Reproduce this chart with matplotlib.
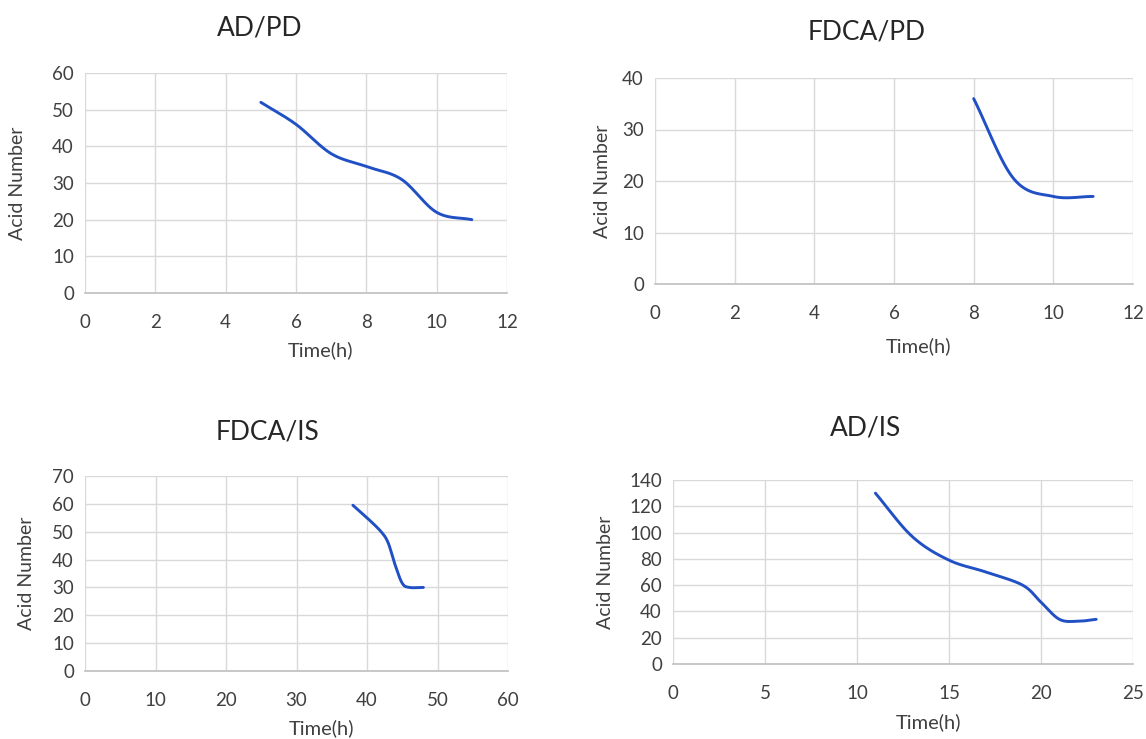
import numpy as np
import matplotlib
matplotlib.use("Agg")
import matplotlib.pyplot as plt

plt.rcParams['font.family'] = ['Lato', 'DejaVu Sans']

# values (Excel smoothed lines)
ad_pd_t = [5, 6, 7, 8, 9, 10, 11]
ad_pd_an = [52, 46, 38, 34.5, 31, 22, 20]

fdca_pd_t = [8, 9, 10, 11]
fdca_pd_an = [36, 20.5, 17, 17]

fdca_is_t = [38, 40, 42, 43, 44, 45, 46, 48]
fdca_is_an = [59.5, 55, 50, 46, 38, 31.5, 30, 30]

ad_is_t = [11, 13, 15, 17, 19, 20, 21, 22, 23]
ad_is_an = [130, 97, 79, 70, 60, 47, 34, 32.5, 34]

titles = ["AD/PD", "FDCA/PD", "FDCA/IS", "AD/IS"]
xmax = [12, 12, 60, 25]
xstep = [2, 2, 10, 5]
ymax = [60, 40, 70, 140]
ystep = [10, 10, 10, 20]

W, H = 1146, 739
# plot boxes in pixels: left, top, right, bottom
boxes = [(85, 73, 507, 293), (655, 78, 1133, 284),
         (85, 476, 508, 671), (673, 480, 1133, 664)]
title_pos = [(260, 28), (867, 32), (268, 432), (866, 428)]
xlab_y = [350, 346, 728, 722]
ylab_x = [18, 603, 27, 605]

LINE = "#2150c4"
TXT = "#404040"


def smooth(x, y, n=30):
    # catmull-rom, like Excel's "smoothed line"
    x = np.asarray(x, float)
    y = np.asarray(y, float)
    px = np.concatenate([[2 * x[0] - x[1]], x, [2 * x[-1] - x[-2]]])
    py = np.concatenate([[2 * y[0] - y[1]], y, [2 * y[-1] - y[-2]]])
    xs, ys = [], []
    t = np.linspace(0, 1, n)
    for i in range(1, len(px) - 2):
        for p, out in ((px, xs), (py, ys)):
            p0, p1, p2, p3 = p[i - 1], p[i], p[i + 1], p[i + 2]
            out.extend(0.5 * ((2 * p1) + (-p0 + p2) * t
                              + (2 * p0 - 5 * p1 + 4 * p2 - p3) * t ** 2
                              + (-p0 + 3 * p1 - 3 * p2 + p3) * t ** 3))
    return xs, ys


fig = plt.figure(figsize=(W / 100, H / 100), dpi=100)

data = [(ad_pd_t, ad_pd_an), (fdca_pd_t, fdca_pd_an),
        (fdca_is_t, fdca_is_an), (ad_is_t, ad_is_an)]

for i in range(4):
    l, t, r, b = boxes[i]
    ax = fig.add_axes([l / W, 1 - b / H, (r - l) / W, (b - t) / H])
    xs, ys = smooth(*data[i])
    ax.plot(xs, ys, color=LINE, lw=2.1, solid_capstyle='round')

    ax.set_xlim(0, xmax[i])
    ax.set_ylim(0, ymax[i])
    ax.set_xticks(np.arange(0, xmax[i] + 1, xstep[i]))
    ax.set_yticks(np.arange(0, ymax[i] + 1, ystep[i]))
    ax.grid(True, color="#d9d9d9", lw=1)
    ax.set_axisbelow(True)
    for s in ["top", "right", "left"]:
        ax.spines[s].set_visible(False)
    ax.spines["bottom"].set_color("#bfbfbf")
    ax.spines["bottom"].set_linewidth(1.2)
    ax.tick_params(length=0, labelsize=13.5, colors=TXT)
    ax.tick_params(axis='x', pad=15)
    ax.tick_params(axis='y', pad=8)

    ax.set_xlabel("Time(h)", fontsize=14.5, color=TXT, va='center')
    ax.xaxis.set_label_coords(0.5 + 25 / (r - l), (b - xlab_y[i]) / (b - t))
    ax.set_ylabel("Acid Number", fontsize=14, color=TXT, va='center')
    ax.yaxis.set_label_coords((ylab_x[i] - l) / (r - l), 0.5)

    fig.text(title_pos[i][0] / W, 1 - title_pos[i][1] / H, titles[i],
             fontsize=19, color="#262626", ha='center', va='center')

fig.savefig("out.png", dpi=100, facecolor="white")
